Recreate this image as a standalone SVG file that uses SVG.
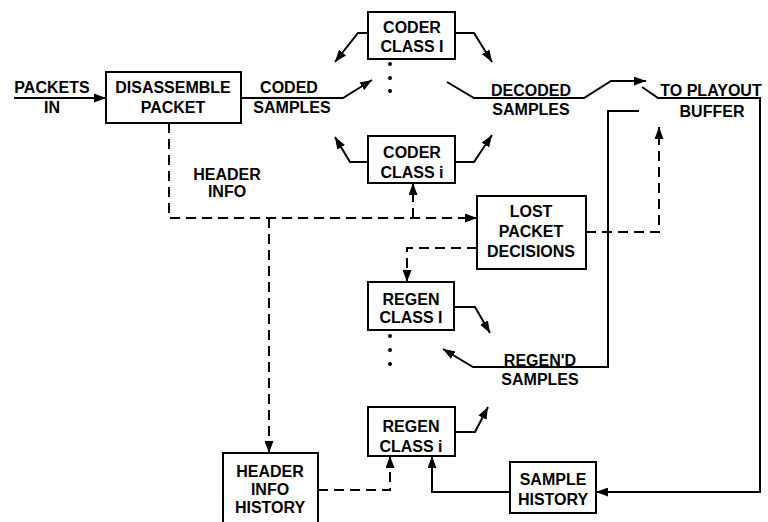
<svg xmlns="http://www.w3.org/2000/svg" width="768" height="522" viewBox="0 0 768 522">
  <style>
    .box { fill: #fff; stroke: #000; stroke-width: 2; }
    .lbl { font-family: "Liberation Sans", Arial, sans-serif; font-size: 16px; font-weight: bold; fill: #000; text-anchor: middle; }
    .ln { fill: none; stroke: #000; stroke-width: 2; marker-end: url(#ah); }
    .dash { fill: none; stroke: #000; stroke-width: 2; stroke-dasharray: 10 6; marker-end: url(#ah); }
    .dot { fill: #000; }
  </style>
  <defs>
    <marker id="ah" viewBox="0 0 12 9" refX="12" refY="4.5" markerWidth="12" markerHeight="9" orient="auto" markerUnits="userSpaceOnUse">
      <path d="M0,0 L12,4.5 L0,9 z" fill="#000"/>
    </marker>
  </defs>
  <rect width="768" height="522" fill="#fff"/>

  <!-- connectors -->
  <g id="connectors">
    <polyline class="ln" points="14,98 106,98"/>
    <polyline class="ln" points="241,98 343,98 372,80"/>
    <polyline class="ln" points="368,33 358,33 335,62"/>
    <polyline class="ln" points="455,33 474,33 492,62"/>
    <polyline class="ln" points="368,162 350,162 335,137"/>
    <polyline class="ln" points="455,162 474,162 492,135"/>
    <polyline class="ln" points="447,82 474,98 584,98 611,81 646,81"/>
    <polyline class="ln" points="642,87 658,98 760,98 760,492 596,492"/>
    <polyline class="ln" points="510,492 432,492 432,456"/>
    <polyline class="ln" points="455,432 475,432 488,407"/>
    <polyline class="ln" points="639,111 608,111 608,367 473,367 443,349"/>
    <polyline class="ln" points="454,307 475,307 490,333"/>
    <polyline class="dash" points="169,123 169,218 477,218"/>
    <polyline class="dash" points="413,218 413,183"/>
    <polyline class="dash" points="269,218 269,453"/>
    <polyline class="dash" points="477,248 407,248 407,282"/>
    <polyline class="dash" points="586,232 659,232 659,127"/>
    <polyline class="dash" points="318,490 390,490 390,456"/>
    <!-- ellipsis dots between class blocks -->
    <circle class="dot" cx="390" cy="64" r="2"/>
    <circle class="dot" cx="390" cy="78" r="2"/>
    <circle class="dot" cx="390" cy="91" r="2"/>
    <circle class="dot" cx="390" cy="336" r="2"/>
    <circle class="dot" cx="390" cy="350" r="2"/>
    <circle class="dot" cx="390" cy="364" r="2"/>
  </g>

  <!-- free labels -->
  <g id="labels">
    <text class="lbl" x="52" y="93">PACKETS</text>
    <text class="lbl" x="52" y="113">IN</text>
    <text class="lbl" x="289" y="93">CODED</text>
    <text class="lbl" x="292" y="113">SAMPLES</text>
    <text class="lbl" x="227" y="180">HEADER</text>
    <text class="lbl" x="227" y="197">INFO</text>
    <text class="lbl" x="531" y="96">DECODED</text>
    <text class="lbl" x="531" y="115">SAMPLES</text>
    <text class="lbl" x="711" y="96">TO PLAYOUT</text>
    <text class="lbl" x="712" y="117">BUFFER</text>
    <text class="lbl" x="540" y="366">REGEN'D</text>
    <text class="lbl" x="540" y="385">SAMPLES</text>
  </g>

  <g id="disassemble">
    <rect class="box" x="106" y="72" width="135" height="51"/>
    <text class="lbl" x="173" y="93">DISASSEMBLE</text>
    <text class="lbl" x="173" y="113">PACKET</text>
  </g>
  <g id="coder-top">
    <rect class="box" x="368" y="12" width="87" height="47"/>
    <text class="lbl" x="412" y="33">CODER</text>
    <text class="lbl" x="412" y="52">CLASS I</text>
  </g>
  <g id="coder-bottom">
    <rect class="box" x="368" y="136" width="87" height="47"/>
    <text class="lbl" x="412" y="158">CODER</text>
    <text class="lbl" x="412" y="178">CLASS i</text>
  </g>
  <g id="lost-packet">
    <rect class="box" x="477" y="196" width="109" height="73"/>
    <text class="lbl" x="531" y="217">LOST</text>
    <text class="lbl" x="531" y="237">PACKET</text>
    <text class="lbl" x="531" y="257">DECISIONS</text>
  </g>
  <g id="regen-top">
    <rect class="box" x="368" y="282" width="86" height="48"/>
    <text class="lbl" x="411" y="305">REGEN</text>
    <text class="lbl" x="411" y="323">CLASS I</text>
  </g>
  <g id="regen-bottom">
    <rect class="box" x="368" y="407" width="87" height="49"/>
    <text class="lbl" x="411" y="432">REGEN</text>
    <text class="lbl" x="411" y="452">CLASS i</text>
  </g>
  <g id="header-history">
    <rect class="box" x="223" y="453" width="95" height="76"/>
    <text class="lbl" x="270" y="477">HEADER</text>
    <text class="lbl" x="270" y="495">INFO</text>
    <text class="lbl" x="270" y="513">HISTORY</text>
  </g>
  <g id="sample-history">
    <rect class="box" x="510" y="462" width="86" height="51"/>
    <text class="lbl" x="553" y="485">SAMPLE</text>
    <text class="lbl" x="553" y="505">HISTORY</text>
  </g>
</svg>
